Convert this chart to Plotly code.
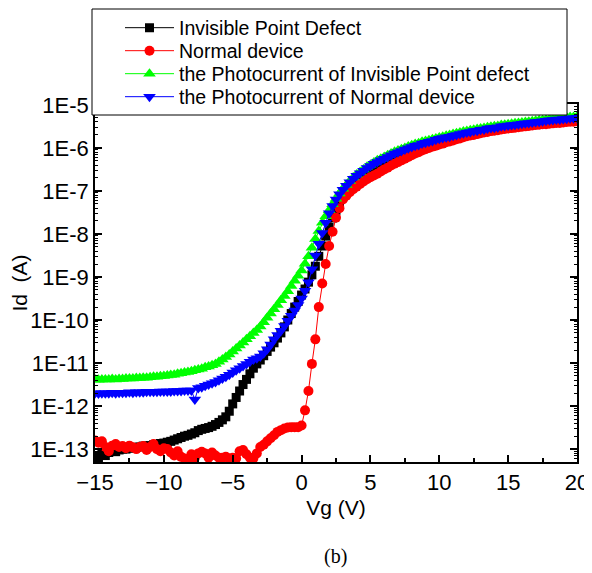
import numpy as np
import plotly.graph_objects as go

# Gate voltage sweep (V), 0.25 V step from -15 to 20
vg = np.linspace(-15, 20, 141)

# log10(Id / A), rows of 1 V (4 points each)
log_black = [
    -13.15, -13.22, -13.10, -13.15,  # -15
    -13.08, -13.05, -13.06, -13.02,  # -14
    -13.00, -13.00, -12.98, -12.97,  # -13
    -12.96, -12.95, -12.93, -12.93,  # -12
    -12.92, -12.90, -12.90, -12.87,  # -11
    -12.86, -12.84, -12.82, -12.79,  # -10
    -12.76, -12.73, -12.70, -12.68,  # -9
    -12.65, -12.62, -12.57, -12.54,  # -8
    -12.52, -12.50, -12.47, -12.43,  # -7
    -12.38, -12.32, -12.25, -12.12,  # -6
    -11.95, -11.80, -11.65, -11.50,  # -5
    -11.38, -11.25, -11.12, -11.02,  # -4
    -10.93, -10.83, -10.73, -10.63,  # -3
    -10.53, -10.42, -10.30, -10.16,  # -2
    -10.00, -9.85, -9.70, -9.57,     # -1
    -9.42, -9.28, -9.12, -8.95,      # 0
    -8.75, -8.52, -8.28, -8.05,      # 1
    -7.85, -7.63, -7.45, -7.28,      # 2
    -7.13, -7.01, -6.90, -6.81,      # 3
    -6.73, -6.66, -6.59, -6.53,      # 4
    -6.48, -6.43, -6.38, -6.34,      # 5
    -6.30, -6.26, -6.22, -6.18,      # 6
    -6.14, -6.11, -6.08, -6.05,      # 7
    -6.02, -5.99, -5.97, -5.94,      # 8
    -5.92, -5.90, -5.87, -5.85,      # 9
    -5.83, -5.81, -5.79, -5.77,      # 10
    -5.75, -5.73, -5.71, -5.70,      # 11
    -5.68, -5.66, -5.65, -5.63,      # 12
    -5.62, -5.60, -5.59, -5.58,      # 13
    -5.57, -5.55, -5.54, -5.53,      # 14
    -5.52, -5.51, -5.50, -5.49,      # 15
    -5.48, -5.47, -5.46, -5.45,      # 16
    -5.44, -5.43, -5.42, -5.41,      # 17
    -5.40, -5.39, -5.38, -5.37,      # 18
    -5.36, -5.36, -5.35, -5.34,      # 19
    -5.34,                           # 20
]

log_red = [
    -12.80, -12.85, -12.82, -12.95,  # -15
    -13.05, -12.92, -12.88, -12.95,  # -14
    -12.93, -12.98, -12.92, -12.96,  # -13
    -13.00, -12.95, -12.93, -13.02,  # -12
    -12.95, -12.88, -13.00, -13.05,  # -11
    -12.98, -13.00, -13.08, -13.15,  # -10
    -13.05, -13.18, -13.22, -13.26,  # -9
    -13.12, -13.20, -13.10, -13.06,  # -8
    -13.10, -13.20, -13.08, -13.15,  # -7
    -13.20, -13.20, -13.18, -13.22,  # -6
    -13.20, -13.22, -13.05, -13.02,  # -5
    -13.12, -13.20, -13.22, -13.10,  # -4
    -12.95, -12.90, -12.82, -12.75,  # -3
    -12.68, -12.60, -12.56, -12.52,  # -2
    -12.50, -12.49, -12.49, -12.49,  # -1
    -12.45, -12.10, -11.65, -11.02,  # 0
    -10.45, -9.70, -9.15, -8.70,     # 1
    -8.28, -7.95, -7.62, -7.40,      # 2
    -7.20, -7.11, -7.03, -6.96,      # 3
    -6.90, -6.84, -6.78, -6.73,      # 4
    -6.68, -6.64, -6.60, -6.55,      # 5
    -6.50, -6.46, -6.41, -6.37,      # 6
    -6.33, -6.29, -6.25, -6.21,      # 7
    -6.17, -6.13, -6.10, -6.06,      # 8
    -6.03, -6.00, -5.97, -5.95,      # 9
    -5.92, -5.90, -5.87, -5.85,      # 10
    -5.83, -5.80, -5.78, -5.75,      # 11
    -5.73, -5.71, -5.70, -5.68,      # 12
    -5.66, -5.64, -5.63, -5.61,      # 13
    -5.60, -5.59, -5.57, -5.56,      # 14
    -5.55, -5.54, -5.53, -5.52,      # 15
    -5.51, -5.50, -5.49, -5.48,      # 16
    -5.47, -5.46, -5.45, -5.45,      # 17
    -5.44, -5.43, -5.42, -5.42,      # 18
    -5.41, -5.40, -5.39, -5.39,      # 19
    -5.38,                           # 20
]

log_green = [
    -11.38, -11.39, -11.38, -11.38,  # -15
    -11.38, -11.37, -11.38, -11.37,  # -14
    -11.37, -11.36, -11.36, -11.36,  # -13
    -11.35, -11.35, -11.34, -11.34,  # -12
    -11.33, -11.32, -11.32, -11.31,  # -11
    -11.30, -11.29, -11.28, -11.27,  # -10
    -11.25, -11.24, -11.22, -11.21,  # -9
    -11.19, -11.17, -11.15, -11.13,  # -8
    -11.10, -11.08, -11.05, -11.02,  # -7
    -10.97, -10.92, -10.86, -10.80,  # -6
    -10.73, -10.66, -10.59, -10.52,  # -5
    -10.45, -10.38, -10.30, -10.23,  # -4
    -10.15, -10.05, -9.95, -9.85,    # -3
    -9.75, -9.65, -9.54, -9.44,      # -2
    -9.33, -9.21, -9.09, -8.97,      # -1
    -8.85, -8.69, -8.52, -8.32,      # 0
    -8.12, -7.93, -7.74, -7.59,      # 1
    -7.45, -7.31, -7.18, -7.06,      # 2
    -6.95, -6.86, -6.77, -6.69,      # 3
    -6.62, -6.56, -6.50, -6.44,      # 4
    -6.39, -6.34, -6.29, -6.25,      # 5
    -6.21, -6.17, -6.13, -6.09,      # 6
    -6.06, -6.03, -6.00, -5.97,      # 7
    -5.94, -5.91, -5.89, -5.86,      # 8
    -5.84, -5.82, -5.80, -5.78,      # 9
    -5.76, -5.74, -5.72, -5.70,      # 10
    -5.68, -5.66, -5.64, -5.62,      # 11
    -5.61, -5.59, -5.58, -5.56,      # 12
    -5.55, -5.54, -5.52, -5.51,      # 13
    -5.50, -5.49, -5.47, -5.46,      # 14
    -5.45, -5.44, -5.43, -5.42,      # 15
    -5.41, -5.40, -5.39, -5.38,      # 16
    -5.37, -5.36, -5.35, -5.34,      # 17
    -5.33, -5.32, -5.31, -5.31,      # 18
    -5.30, -5.29, -5.28, -5.28,      # 19
    -5.27,                           # 20
]

log_blue = [
    -11.70, -11.71, -11.70, -11.70,  # -15
    -11.70, -11.69, -11.70, -11.69,  # -14
    -11.69, -11.69, -11.68, -11.69,  # -13
    -11.68, -11.68, -11.68, -11.67,  # -12
    -11.67, -11.67, -11.67, -11.66,  # -11
    -11.66, -11.66, -11.66, -11.65,  # -10
    -11.65, -11.65, -11.64, -11.64,  # -9
    -11.64, -11.85, -11.58, -11.56,  # -8
    -11.53, -11.50, -11.47, -11.44,  # -7
    -11.40, -11.36, -11.32, -11.27,  # -6
    -11.22, -11.17, -11.12, -11.07,  # -5
    -11.02, -10.97, -10.92, -10.89,  # -4
    -10.85, -10.77, -10.68, -10.57,  # -3
    -10.45, -10.35, -10.25, -10.14,  # -2
    -10.02, -9.90, -9.78, -9.65,     # -1
    -9.50, -9.32, -9.12, -8.82,      # 0
    -8.50, -8.23, -7.98, -7.74,      # 1
    -7.52, -7.35, -7.20, -7.08,      # 2
    -6.97, -6.88, -6.80, -6.72,      # 3
    -6.65, -6.59, -6.53, -6.47,      # 4
    -6.42, -6.37, -6.33, -6.29,      # 5
    -6.25, -6.21, -6.17, -6.13,      # 6
    -6.10, -6.07, -6.04, -6.01,      # 7
    -5.98, -5.95, -5.93, -5.90,      # 8
    -5.88, -5.86, -5.84, -5.81,      # 9
    -5.79, -5.77, -5.75, -5.74,      # 10
    -5.72, -5.70, -5.68, -5.66,      # 11
    -5.64, -5.63, -5.61, -5.60,      # 12
    -5.58, -5.57, -5.55, -5.54,      # 13
    -5.53, -5.52, -5.50, -5.49,      # 14
    -5.48, -5.47, -5.46, -5.45,      # 15
    -5.44, -5.43, -5.42, -5.41,      # 16
    -5.40, -5.39, -5.38, -5.37,      # 17
    -5.36, -5.35, -5.34, -5.34,      # 18
    -5.33, -5.32, -5.31, -5.31,      # 19
    -5.30,                           # 20
]

series_names = [
    "Invisible Point Defect",
    "Normal device",
    "the Photocurrent of Invisible Point defect",
    "the Photocurrent of Normal device",
]

y_tick_vals = [1e-13, 1e-12, 1e-11, 1e-10, 1e-9, 1e-8, 1e-7, 1e-6, 1e-5]
y_tick_text = ["1E-13", "1E-12", "1E-11", "1E-10", "1E-9", "1E-8", "1E-7", "1E-6", "1E-5"]
x_tick_vals = [-15, -10, -5, 0, 5, 10, 15, 20]

for arr in (log_black, log_red, log_green, log_blue):
    assert len(arr) == len(vg)

SANS = "Liberation Sans, Arial, sans-serif"
SERIF = "Liberation Serif, Times New Roman, serif"

styles = [
    dict(color="#000000", symbol="square", size=9),
    dict(color="#ff0000", symbol="circle", size=10),
    dict(color="#00ff00", symbol="triangle-up", size=11),
    dict(color="#0000ff", symbol="triangle-down", size=11),
]
legend_ids = ["legend", "legend2", "legend3", "legend4"]

fig = go.Figure()
for name, logs, st, lg in zip(series_names, [log_black, log_red, log_green, log_blue], styles, legend_ids):
    fig.add_trace(go.Scatter(
        x=vg, y=[10 ** v for v in logs], mode="lines+markers", name=name,
        line=dict(color=st["color"], width=1),
        marker=dict(symbol=st["symbol"], size=st["size"], color=st["color"], line=dict(width=0)),
        legend=lg, showlegend=True,
    ))

# page offset (browser body margin) and plot area in screen pixels
OFF = 8
FIG_W, FIG_H = 592 - OFF, 573 - OFF
L, R, T, B = 95 - OFF, 577 - OFF, 104 - OFF, 462 - OFF
W, H = R - L, B - T
def px_x(p):
    return (p - OFF - L) / W
def px_y(p):
    return (B - (p - OFF)) / H

row_px = [28, 51, 74, 97]
layout_legends = {}
for lg, rp in zip(legend_ids, row_px):
    layout_legends[lg] = dict(
        x=px_x(120), y=px_y(rp), xanchor="left", yanchor="middle",
        bgcolor="rgba(0,0,0,0)", borderwidth=0,
        font=dict(family=SANS, size=19.5, color="#000000"),
        itemwidth=49, itemsizing="trace",
    )

fig.update_layout(
    width=FIG_W, height=FIG_H,
    margin=dict(l=L, r=FIG_W - R, t=T, b=FIG_H - B, autoexpand=False),
    paper_bgcolor="white", plot_bgcolor="white",
    font=dict(family=SANS, color="#000000"),
    showlegend=True,
    **layout_legends,
    shapes=[dict(
        type="rect", xref="paper", yref="paper",
        x0=px_x(92), x1=px_x(567), y0=px_y(115), y1=px_y(9),
        fillcolor="white", line=dict(color="#000000", width=1), layer="above",
    )],
    annotations=[dict(
        text="(b)", xref="paper", yref="paper", x=px_x(335), y=px_y(556),
        xanchor="center", yanchor="middle", showarrow=False,
        font=dict(family=SERIF, size=20, color="#000000"),
    )],
)

fig.update_xaxes(
    range=[-15, 20], tickmode="array", tickvals=x_tick_vals,
    ticks="inside", ticklen=7, tickwidth=1.5, tickcolor="#000000",
    showline=True, linewidth=1.5, linecolor="#000000", mirror="ticks",
    showgrid=False, zeroline=False,
    tickfont=dict(family=SANS, size=22, color="#000000"),
    minor=dict(dtick=2.5, tick0=0, ticks="inside", ticklen=4, tickwidth=1.5, tickcolor="#000000", showgrid=False),
    title=dict(text="Vg (V)", font=dict(family=SANS, size=21, color="#000000"), standoff=6),
)

minor_y = [m * 10.0 ** e for e in range(-14, -4) for m in range(2, 10)]
fig.update_yaxes(
    type="log", range=[-13.30, -4.98], tickmode="array",
    tickvals=y_tick_vals, ticktext=y_tick_text,
    ticks="inside", ticklen=7, tickwidth=1.5, tickcolor="#000000",
    showline=True, linewidth=1.5, linecolor="#000000", mirror="ticks",
    showgrid=False, zeroline=False,
    tickfont=dict(family=SANS, size=22, color="#000000"),
    minor=dict(tickmode="array", tickvals=minor_y, ticks="inside", ticklen=3.5, tickwidth=1, tickcolor="#000000", showgrid=False),
    title=dict(text="Id  (A)", font=dict(family=SANS, size=21, color="#000000"), standoff=0),
)

fig.write_html("out.html")
